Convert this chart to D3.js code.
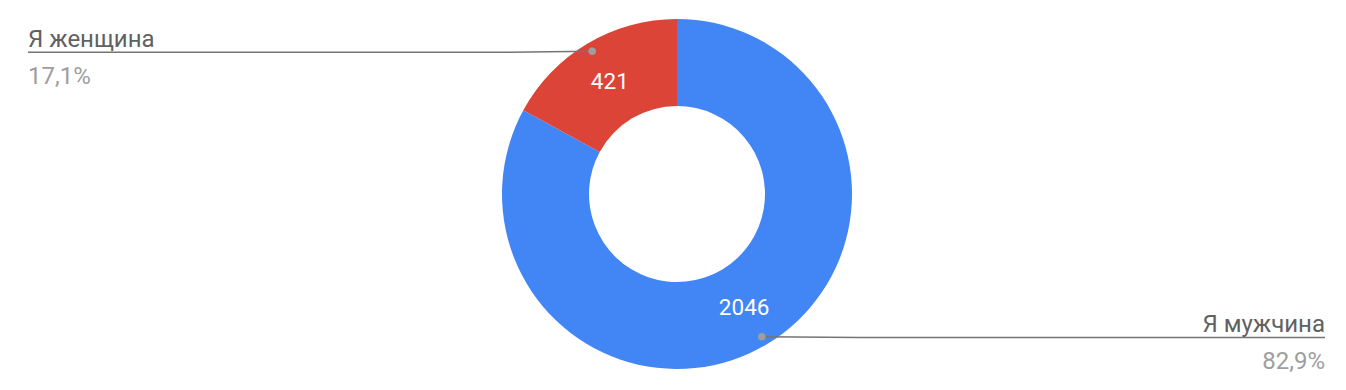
<!DOCTYPE html>
<html>
<head>
<meta charset="utf-8">
<script src="https://cdn.jsdelivr.net/npm/d3@7"></script>
<style>
  body { margin: 0; background: #fff; }
  svg { display: block; font-family: Roboto, sans-serif; }
</style>
</head>
<body>
<script>
// data
const categories = ['Я мужчина', 'Я женщина']
const values = [2046, 421]
const percentLabels = ['82,9%', '17,1%']
const colors = ['#4285f4', '#db4437']

const width = 1346
const height = 390
const cx = 677
const cy = 194
const outerR = 175
const innerR = 88

const svg = d3.select('body').append('svg')
  .attr('width', width)
  .attr('height', height)

const g = svg.append('g').attr('transform', `translate(${cx},${cy})`)

const pie = d3.pie().sort(null).value(d => d)
const arcs = pie(values)

const arc = d3.arc().innerRadius(innerR).outerRadius(outerR)
const labelArc = d3.arc().innerRadius((innerR + outerR) / 2).outerRadius((innerR + outerR) / 2)
const dotArc = d3.arc().innerRadius(166).outerRadius(166)

g.selectAll('path.slice')
  .data(arcs)
  .join('path')
  .attr('class', 'slice')
  .attr('d', arc)
  .attr('fill', (d, i) => colors[i])

g.selectAll('text.val')
  .data(arcs)
  .join('text')
  .attr('class', 'val')
  .attr('transform', d => `translate(${labelArc.centroid(d)})`)
  .attr('text-anchor', 'middle')
  .attr('dy', '0.36em')
  .attr('fill', '#fff')
  .attr('font-size', 22.5)
  .text(d => d.data)

// legend leaders: right side for first slice, left side for second
const legend = [
  { side: 1, lineY: 337.5, end: 1325, bend: 860 },
  { side: -1, lineY: 52.3, end: 28, bend: 500 }
]

arcs.forEach((d, i) => {
  const [dx, dy] = dotArc.centroid(d)
  const L = legend[i]
  const px = cx + dx
  const py = cy + dy
  svg.append('path')
    .attr('d', d3.line()([[px, py], [L.bend, L.lineY], [L.end, L.lineY]]))
    .attr('fill', 'none')
    .attr('stroke', '#757575')
    .attr('stroke-width', 1.6)
  svg.append('circle')
    .attr('cx', px).attr('cy', py).attr('r', 3.8)
    .attr('fill', '#9e9e9e')
  const anchor = L.side > 0 ? 'end' : 'start'
  svg.append('text')
    .attr('x', L.end).attr('y', L.lineY - 5.7)
    .attr('text-anchor', anchor)
    .attr('font-size', 24)
    .attr('fill', '#616161')
    .text(categories[i])
  svg.append('text')
    .attr('x', L.end).attr('y', L.lineY + 31.5)
    .attr('text-anchor', anchor)
    .attr('font-size', 24)
    .attr('fill', '#9e9e9e')
    .text(percentLabels[i])
})
</script>
</body>
</html>
